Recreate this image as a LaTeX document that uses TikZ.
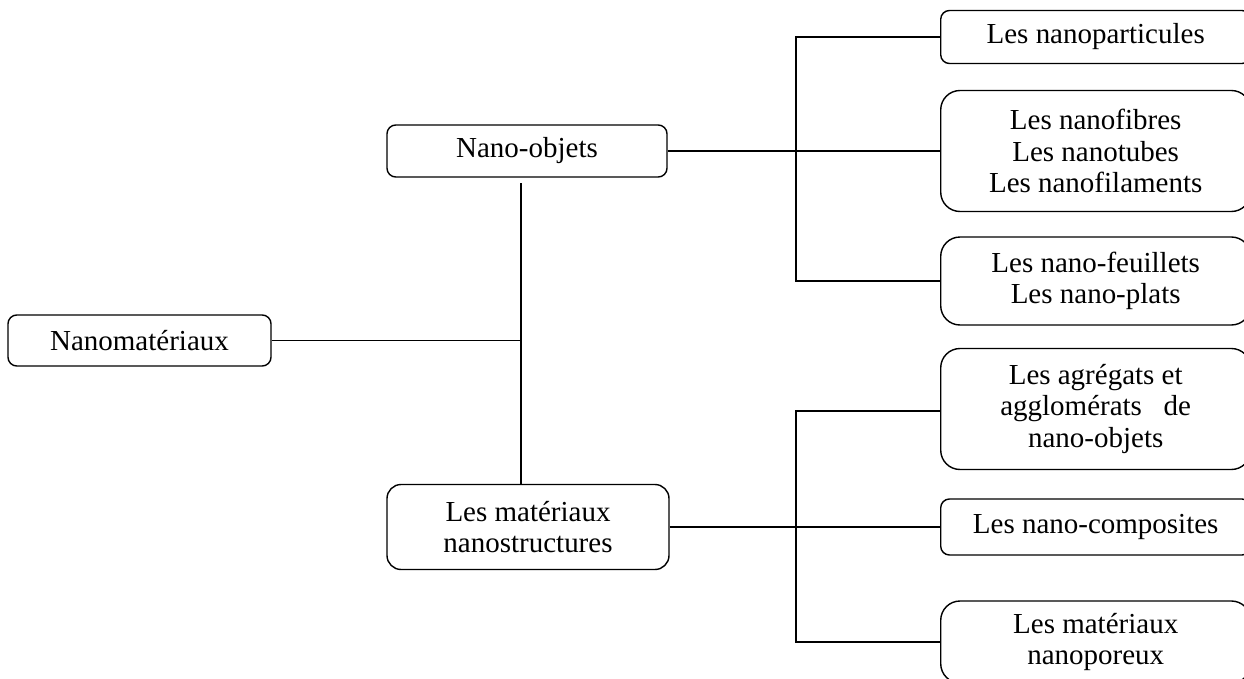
\documentclass[tikz,border=0pt]{standalone}
\usepackage{fontspec}
\setmainfont{Liberation Serif}
\usetikzlibrary{positioning}

\tikzset{
    boite/.style={draw, rounded corners=5pt, line width=0.8pt, align=center,
        font=\fontsize{16.5}{17.8}\selectfont, inner sep=2pt},
    grande/.style={boite, rounded corners=11pt},
    lien/.style={line width=0.8pt}
}

\begin{document}
\begin{tikzpicture}[x=0.02cm, y=-0.02cm]
\useasboundingbox (0,0) rectangle (1244,679);

% Niveau 0
\node[boite, minimum width=263*0.02cm, minimum height=51*0.02cm] (nanomat) at (139.5,340.5) {Nanomatériaux};

% Niveau 1
\node[boite, minimum width=280*0.02cm, minimum height=52*0.02cm] (nanoobj) at (527,151) {Nano-objets};
\node[boite, rounded corners=8pt, minimum width=282*0.02cm, minimum height=85*0.02cm] (matnano) at (528,527) {Les matériaux\\nanostructures};

% Niveau 2 (nano-objets)
\node[boite, minimum width=310*0.02cm, minimum height=53*0.02cm, anchor=west] (particules) at (940,37) {Les nanoparticules};
\node[grande, minimum width=310*0.02cm, minimum height=121*0.02cm, anchor=west] (fibres) at (940,151) {Les nanofibres\\Les nanotubes\\Les nanofilaments};
\node[grande, minimum width=310*0.02cm, minimum height=88*0.02cm, anchor=west] (feuillets) at (940,281) {Les nano-feuillets\\Les nano-plats};

% Niveau 2 (matériaux nanostructurés)
\node[grande, minimum width=310*0.02cm, minimum height=121*0.02cm, anchor=west] (agregats) at (940,409) {Les agrégats et\\agglomérats\ \ \ de\\nano-objets};
\node[boite, minimum width=310*0.02cm, minimum height=56*0.02cm, anchor=west] (composites) at (940,527) {Les nano-composites};
\node[grande, minimum width=310*0.02cm, minimum height=82*0.02cm, anchor=west] (poreux) at (940,642) {Les matériaux\\nanoporeux};

% Liens
\coordinate (jonction) at (521,340.5);
\coordinate (haut) at (521,183);
\draw[lien] (nanomat.east) -- (jonction);
\draw[lien] (haut) -- (haut |- matnano.north);

\draw[lien] (nanoobj.east) -- (fibres.west);
\draw[lien] (particules.west) -- ++(-144,0) |- (feuillets.west);

\draw[lien] (matnano.east) -- (composites.west);
\draw[lien] (agregats.west) ++(0,2) -- ++(-144,0) |- (poreux.west);

\end{tikzpicture}
\end{document}
